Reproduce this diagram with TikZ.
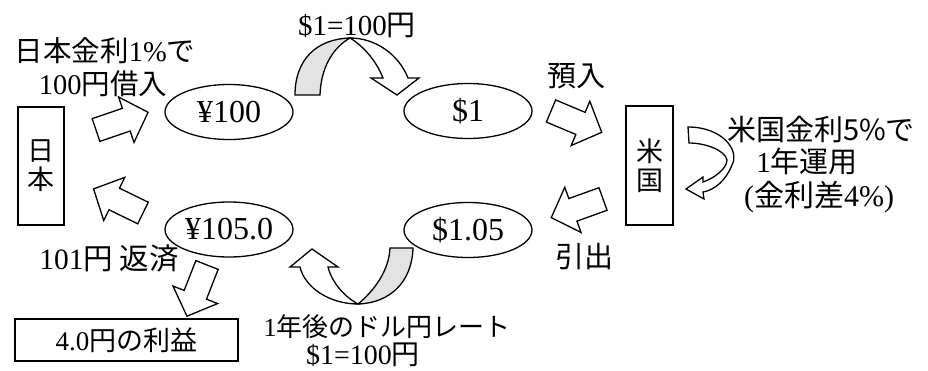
\documentclass[tikz,border=0pt]{standalone}
\usepackage{fontspec}
\setmainfont{Liberation Serif}
\newfontfamily\jp{Noto Sans CJK JP}
\usetikzlibrary{shapes.geometric}
\newcommand\fs[1]{\fontsize{#1}{#1}\selectfont}
\begin{document}
\begin{tikzpicture}[x=1pt,y=-1pt,
  lw/.style={line width=1.3pt},
  txt/.style={inner sep=0pt, font=\fs{29}},
  oval/.style={draw, lw, ellipse, minimum width=128pt, minimum height=55pt, inner sep=0pt, font=\fs{32}},
  box/.style={draw, lw, rectangle, inner sep=0pt},
  wfill/.style={draw, lw, fill=white, line join=miter},
  gband/.style={draw, lw, fill=gray!22, line join=miter},
  blockarrow/.pic={\draw[wfill] (0,-12) -- (32,-12) -- (32,-24) -- (55,0) -- (32,24) -- (32,12) -- (0,12) -- cycle;}
]
\useasboundingbox (0,0) rectangle (928,370);

% boxes
\node[box, minimum width=46pt, minimum height=118pt, txt, font=\fs{27}, align=center] (jp) at (41,166) {\jp 日\\[2pt]\jp 本};
\node[box, minimum width=47pt, minimum height=119pt, txt, font=\fs{27}, align=center] (us) at (649.5,165.5) {\jp 米\\[2pt]\jp 国};
\node[box, minimum width=223pt, minimum height=42pt, txt, font=\fs{27}] (profit) at (126.5,340) {4.0{\jp 円の利益}\hspace{20pt}};

% ellipses
\node[oval] (y100) at (229,112) {¥100};
\node[oval] (d1) at (468,111) {\$1};
\node[oval] (d105) at (468,230) {\$1.05};
\node[oval] (y105) at (229,229.5) {¥105.0};

% texts
\node[txt, font=\fs{28.5}] (t1) at (105,51) {{\jp 日本金利}1\%{\jp で}};
\node[txt, font=\fs{28.5}] (t2) at (103,84) {100{\jp 円借入}};
\node[txt] (t3) at (357,25) {\$1=100{\jp 円}};
\node[txt] (t4) at (576,76) {\jp 預入};
\node[txt] (t5) at (821,129) {\jp 米国金利5\%で};
\node[txt] (t6) at (807,161) {1{\jp 年運用}};
\node[txt, font=\fs{30}] (t7) at (819,197) {({\jp 金利差}4\%)};
\node[txt] (t8) at (584,257) {\jp 引出};
\node[txt, font=\fs{29.5}] (t9) at (109,258) {101{\jp 円 返済}};
\node[txt, font=\fs{26}] (t10) at (387,327) {1{\jp 年後のドル円レート}};
\node[txt, font=\fs{28}] (t11) at (363,354.5) {\$1=100{\jp 円}};

% block arrows
\pic[rotate=18.8] at (96,130) {blockarrow};
\pic[rotate=154] at (143,213) {blockarrow};
\pic[rotate=-22.8] at (551,111) {blockarrow};
\pic[rotate=199.8] at (603,199) {blockarrow};
\pic[rotate=-111.4] at (207,265) {blockarrow};

% top curved arrow
\draw[gband] (295,95) .. controls (295,60) and (316,39) .. (350,38)
  .. controls (334,47) and (321,66) .. (320,95) -- cycle;
\draw[wfill] (350,38) .. controls (376,38) and (399,55) .. (408,78)
  -- (419,78) -- (397,95) -- (371,78) -- (383,78)
  .. controls (376,60) and (362,45) .. (350,38) -- cycle;

% bottom curved arrow
\draw[gband] (413,248) .. controls (412,282) and (390,303) .. (358,304)
  .. controls (375,290) and (389,270) .. (390,248) -- cycle;
\draw[wfill] (358,304) .. controls (330,304) and (305,288) .. (300,267)
  -- (290,267) -- (312,249) -- (338,267) -- (328,267)
  .. controls (332,283) and (345,297) .. (358,304) -- cycle;

% small curved arrow at US
\draw[wfill] (688,127) .. controls (722,127) and (740,150) .. (732,165)
  .. controls (726,180) and (715,190) .. (703,192)
  -- (704,199) -- (686,189) -- (703,177) -- (703,182)
  .. controls (715,178) and (727,168) .. (727,160)
  .. controls (725,150) and (705,143) .. (689,143) -- cycle;
\end{tikzpicture}
\end{document}
